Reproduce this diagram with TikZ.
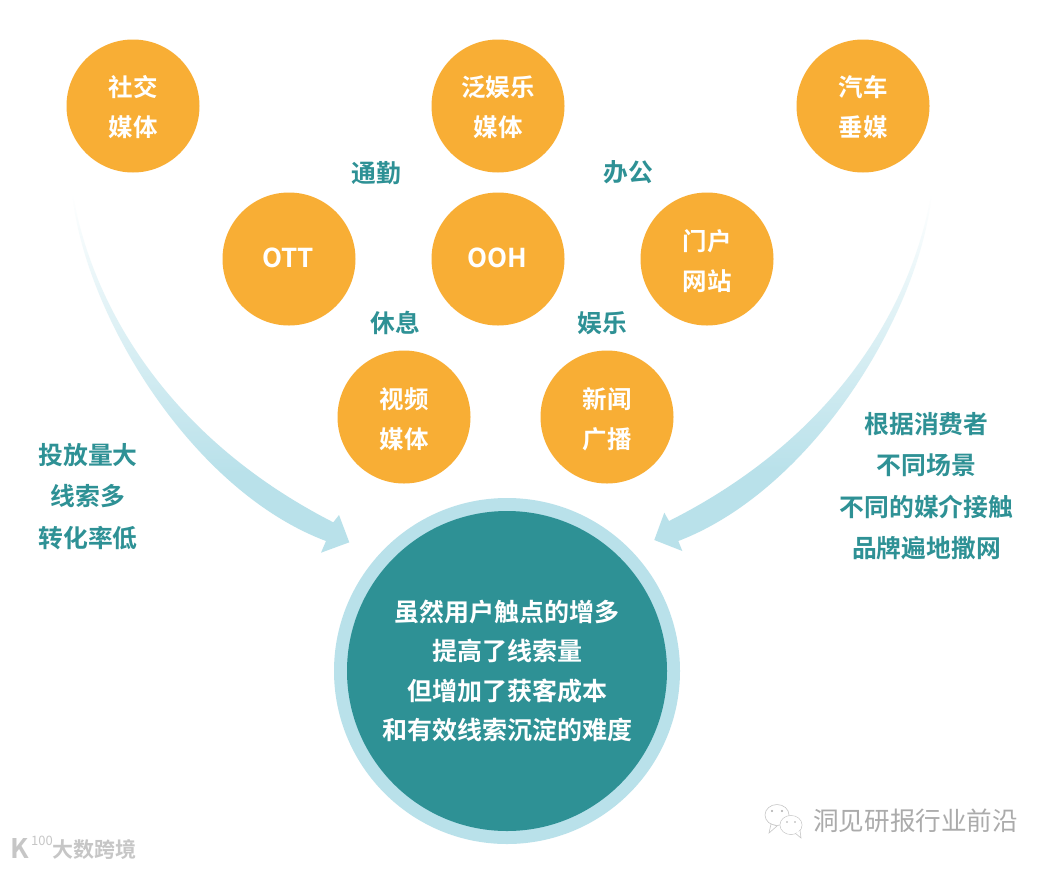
\documentclass[tikz,border=0pt]{standalone}
\usepackage{fontspec}
\setmainfont{Noto Sans CJK SC}[BoldFont={* Bold}]
\newfontfamily\cjkb{Noto Sans CJK SC Bold}
\newfontfamily\cjkr{Noto Sans CJK SC}
\definecolor{orangeC}{HTML}{F8AE35}
\definecolor{tealC}{HTML}{2E9195}
\definecolor{paleC}{HTML}{B9E1EA}
\definecolor{markC}{HTML}{ABABAB}
\definecolor{markD}{HTML}{C6C6C6}
\pgfdeclareverticalshading{arrowfade}{100bp}{color(0bp)=(paleC); color(36bp)=(paleC); color(74.5bp)=(white); color(100bp)=(white)}
\tikzset{
  bubble/.style={circle,fill=orangeC,minimum size=133pt,inner sep=0pt},
  bubbletext/.style={text=white,align=center,inner sep=0pt,font=\cjkb\fontsize{24.5}{40}\selectfont},
  tag/.style={text=tealC,align=center,inner sep=0pt,font=\cjkb\fontsize{24.8}{41.3}\selectfont},
  sweep/.style={shading=arrowfade,draw=none},
}
\begin{document}
\begin{tikzpicture}[x=1pt,y=-1pt]
\useasboundingbox (0,0) rectangle (1054,868);
\fill[white] (0,0) rectangle (1054,868);
% sweeping arrows
\coordinate (lstart) at (72,190);
\coordinate (lnoteu) at (333.3,522.3);
\coordinate (lbaru) at (339,515);
\coordinate (ltip) at (349.3,542.3);
\coordinate (lbard) at (321,552.7);
\coordinate (lnoted) at (326,541);
\path[sweep] (lstart) .. controls (92,310) and (172,440) .. (lnoteu) -- (lbaru) -- (ltip) -- (lbard) -- (lnoted) .. controls (190,490) and (82,310) .. (lstart) -- cycle;
\coordinate (rstart) at (932,190);
\coordinate (rnoteu) at (669,521);
\coordinate (rbaru) at (664.3,512.7);
\coordinate (rtip) at (654.3,540);
\coordinate (rbard) at (682.3,551);
\coordinate (rnoted) at (678.3,541);
\path[sweep] (rstart) .. controls (912,310) and (832,439) .. (rnoteu) -- (rbaru) -- (rtip) -- (rbard) -- (rnoted) .. controls (814,489) and (922,310) .. (rstart) -- cycle;
% bubbles
\node[bubble] (social) at (133,106) {};
\node[bubbletext] at (133,107.5) {社交\\媒体};
\node[bubble] (fun) at (498,106) {};
\node[bubbletext] at (498,107.5) {泛娱乐\\媒体};
\node[bubble] (car) at (863,106) {};
\node[bubbletext] at (863,107.5) {汽车\\垂媒};
\node[bubble] (ott) at (289,259) {};
\node[bubbletext,font=\cjkb\fontsize{26}{40}\selectfont] at (288,258) {OTT};
\node[bubble] (ooh) at (498,259) {};
\node[bubbletext,font=\cjkb\fontsize{26}{40}\selectfont] at (497,258) {OOH};
\node[bubble] (portal) at (707,259) {};
\node[bubbletext] at (707,261.5) {门户\\网站};
\node[bubble] (video) at (404,417) {};
\node[bubbletext] at (404,419.5) {视频\\媒体};
\node[bubble] (news) at (607,417) {};
\node[bubbletext] at (607,419.5) {新闻\\广播};
% scene labels
\node[tag] (commute) at (376.5,173) {通勤};
\node[tag] (office) at (628.5,172) {办公};
\node[tag] (rest) at (395,323) {休息};
\node[tag] (play) at (602.5,323) {娱乐};
% side texts
\node[tag] (left) at (88,496.5) {投放量大\\线索多\\转化率低};
\node[tag] (right) at (926.5,486) {根据消费者\\不同场景\\不同的媒介接触\\品牌遍地撒网};
% core
\node[circle,fill=paleC,minimum size=346pt,inner sep=0pt] (ring) at (507,671) {};
\node[circle,fill=tealC,minimum size=320pt,inner sep=0pt,text=white,align=center,font=\cjkb\fontsize{25}{39.3}\selectfont] (core) at (507,671) {虽然用户触点的增多\\提高了线索量\\但增加了获客成本\\和有效线索沉淀的难度};
% watermarks
\node[text=markC,inner sep=0pt,font=\cjkr\fontsize{25.6}{30}\selectfont,anchor=west] (wmA) at (813,821) {洞见研报行业前沿};
\node[text=markD,inner sep=0pt,font=\cjkb\fontsize{21}{24}\selectfont,anchor=west] (wmB) at (52,849) {大数跨境};
\node[text=markD,inner sep=0pt,font=\cjkb\fontsize{27}{27}\selectfont] (wmK) at (20,848) {K};
\node[text=markD,inner sep=0pt,font=\cjkr\fontsize{13}{13}\selectfont,anchor=west] (wmN) at (31,841) {100};
% wechat icon
\begin{scope}[line width=.6pt,draw=markD,fill=white]
\filldraw (777,815) ellipse (12 and 10.5);
\filldraw (771,824) -- (769,833) -- (777,826) -- cycle;
\filldraw (791,825) ellipse (11 and 9.5);
\filldraw (795,833) -- (801,838) -- (800,830) -- cycle;
\fill[white] (791,825) ellipse (10.5 and 9);
\fill[markC] (772,811) circle (1.1) (782,811) circle (1.1) (787,822) circle (.9) (795,822) circle (.9);
\end{scope}
\end{tikzpicture}
\end{document}
